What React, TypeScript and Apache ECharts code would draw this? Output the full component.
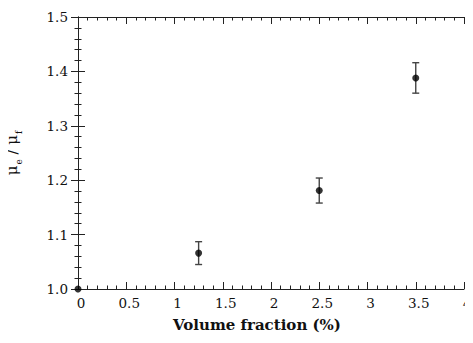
import React, { useEffect, useRef } from "react";
import * as echarts from "echarts";

const xValues = [0, 1.25, 2.5, 3.5];
const yValues = [1.0, 1.066, 1.181, 1.388];
const errValues = [0, 0.021, 0.023, 0.028];
const xTickLabels = ["0", "0.5", "1", "1.5", "2", "2.5", "3", "3.5", "4"];
const yTickLabels = ["1.0", "1.1", "1.2", "1.3", "1.4", "1.5"];

const FONT = "DejaVu Serif";

export default function App() {
  const ref = useRef<HTMLDivElement>(null);
  useEffect(() => {
    if (!ref.current) return;
    const chart = echarts.init(ref.current, undefined, { renderer: "svg" });
    const axisLine = { show: true, lineStyle: { color: "#222", width: 1 } };
    const tick = { show: true, inside: true, length: 7, lineStyle: { color: "#222", width: 1 } };
    const minor = { show: true, splitNumber: 5, length: 3.5, lineStyle: { color: "#222", width: 1 } };
    const xIdx = (v: number) => Math.round(v * 2);
    const yIdx = (v: number) => Math.round((v - 1) * 10);
    chart.setOption({
      animation: false,
      grid: { left: 78, right: 9, top: 17, bottom: 54, containLabel: false, outerBoundsMode: "none" },
      xAxis: [
        {
          type: "value", min: 0, max: 4, interval: 0.5, position: "bottom",
          axisLine, axisTick: tick, minorTick: minor, splitLine: { show: false },
          axisLabel: {
            color: "#111", fontFamily: FONT, fontSize: 13.5, margin: 7, padding: [0, 0, 0, 6],
            overflow: "none", hideOverlap: false,
            showMinLabel: true, showMaxLabel: true,
            formatter: (v: number) => xTickLabels[xIdx(v)] ?? "",
          },
          name: "Volume fraction (%)", nameLocation: "middle", nameGap: 28,
          nameTextStyle: { color: "#111", fontFamily: FONT, fontWeight: "bold", fontSize: 15, padding: [0, 28, 0, 0] },
        },
        {
          type: "value", min: 0, max: 4, interval: 0.5, position: "top",
          axisLine, axisTick: tick, minorTick: minor, splitLine: { show: false },
          axisLabel: { show: false },
        },
      ],
      yAxis: [
        {
          type: "value", min: 1, max: 1.5, interval: 0.1, position: "left",
          axisLine, axisTick: tick, minorTick: minor, splitLine: { show: false },
          axisLabel: {
            color: "#111", fontFamily: FONT, fontSize: 13.5, margin: 10,
            formatter: (v: number) => yTickLabels[yIdx(v)] ?? "",
          },
          name: "{m|μ}{s|e}{m| / μ}{s|f}", nameLocation: "middle", nameGap: 55, nameRotate: 90,
          nameTextStyle: {
            color: "#111", fontFamily: FONT,
            rich: {
              m: { fontFamily: FONT, fontSize: 15, color: "#111", lineHeight: 22, verticalAlign: "middle" },
              s: { fontFamily: FONT, fontSize: 9, color: "#111", lineHeight: 22, verticalAlign: "bottom", padding: [6, 0, 0, 1] },
            },
          },
        },
        {
          type: "value", min: 1, max: 1.5, interval: 0.1, position: "right",
          axisLine, axisTick: tick, minorTick: minor, splitLine: { show: false },
          axisLabel: { show: false },
        },
      ],
      series: [
        {
          type: "custom",
          xAxisIndex: 0, yAxisIndex: 0,
          clip: false,
          data: xValues.map((x, i) => [x, yValues[i] - errValues[i], yValues[i] + errValues[i]]).filter((_, i) => errValues[i] > 0),
          renderItem: (params: any, api: any) => {
            const x = api.value(0);
            const lo = api.coord([x, api.value(1)]);
            const hi = api.coord([x, api.value(2)]);
            const w = 3.5;
            const style = { stroke: "#444", lineWidth: 1.4 };
            return {
              type: "group",
              children: [
                { type: "line", shape: { x1: lo[0], y1: lo[1], x2: hi[0], y2: hi[1] }, style },
                { type: "line", shape: { x1: lo[0] - w, y1: lo[1], x2: lo[0] + w, y2: lo[1] }, style },
                { type: "line", shape: { x1: hi[0] - w, y1: hi[1], x2: hi[0] + w, y2: hi[1] }, style },
              ],
            };
          },
          z: 2,
        },
        {
          type: "scatter",
          xAxisIndex: 0, yAxisIndex: 0,
          clip: false,
          symbol: "circle", symbolSize: 7,
          itemStyle: { color: "#000" },
          data: xValues.map((x, i) => [x, yValues[i]]),
          z: 3,
        },
      ],
    });
    return () => chart.dispose();
  }, []);
  return <div ref={ref} style={{ width: 473, height: 343, margin: -8 }} />;
}
